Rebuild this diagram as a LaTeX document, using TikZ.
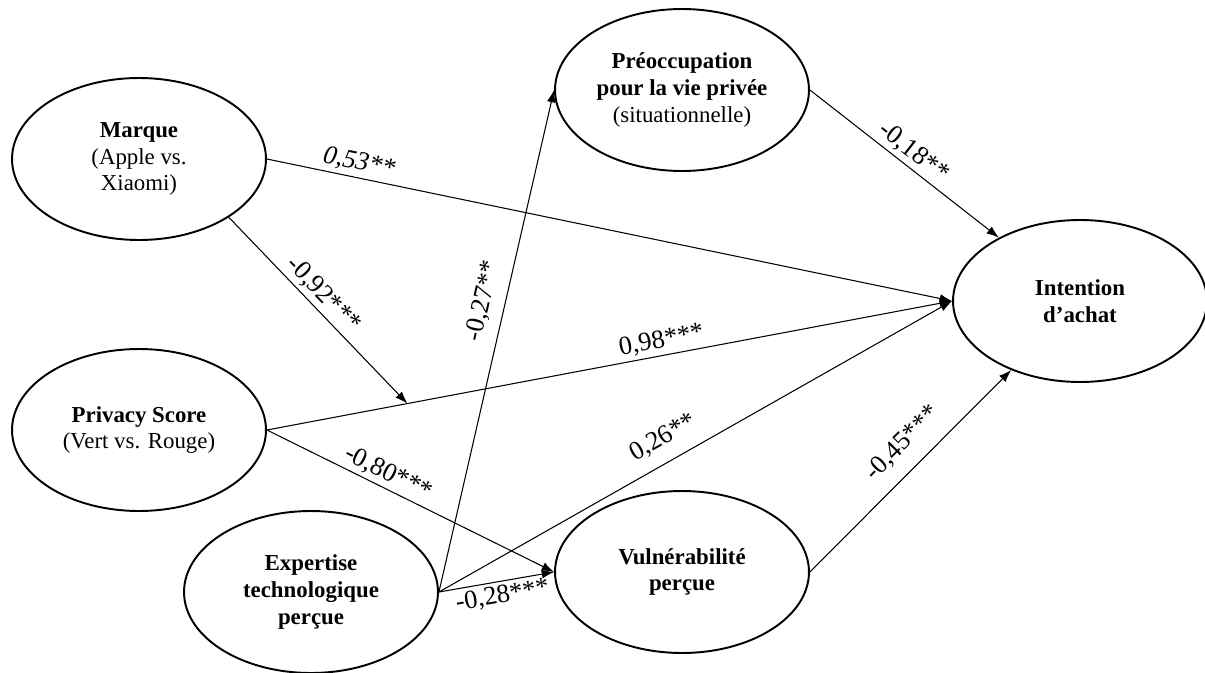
\documentclass[tikz,border=0pt]{standalone}
\usepackage{fontspec}
\setmainfont{Liberation Serif}
\usetikzlibrary{arrows.meta,shapes}
\tikzstyle{latent}=[ellipse, draw, line width=1.1pt, inner sep=0pt,
 minimum width=5.08cm, minimum height=3.24cm, align=center,
 font=\fontsize{13}{15.3}\selectfont]
\tikzstyle{coef}=[sloped, inner sep=2pt, font=\fontsize{15}{17}\selectfont]
\tikzstyle{link}=[->, line width=0.6pt]

\begin{document}
\begin{tikzpicture}[x=0.02cm, y=-0.02cm, >={Latex[length=7pt,width=5pt]}]
	\useasboundingbox (0,0) rectangle (1205,673);

	    % Variables
		\node[latent] (marque) at (139,159) {\textbf{Marque}\\(Apple vs.\\Xiaomi)};
		\node[latent] (privacy) at (139,430) {\textbf{Privacy Score}\\(Vert vs. Rouge)};
		\node[latent] (expertise) at (311,592) {\textbf{Expertise}\\\textbf{technologique}\\\textbf{perçue}};
		\node[latent] (preoc) at (682,90) {\textbf{Préoccupation}\\\textbf{pour la vie privée}\\(situationnelle)};
		\node[latent] (vuln) at (682,572) {\textbf{Vulnérabilité}\\\textbf{perçue}};
		\node[latent] (intention) at (1080,301) {\textbf{Intention}\\\textbf{d’achat}};

		% Effets directs
		\draw[link] (marque.east) -- node[coef, above, pos=0.13] {\textit{0,53**}} (intention.west);
		\draw[link] (privacy.east) -- node[coef, above, pos=0.58] {0,98***} (intention.west);
		\draw[link] (privacy.east) -- node[coef, above, pos=0.4] {-0,80***} (vuln.west);
		\draw[link] (expertise.east) -- node[coef, above=5pt, pos=0.46] {0,26**} (intention.west);
		\draw[link] (expertise.east) -- node[coef, above=4pt, pos=0.57] {-0,27**} (preoc.west);
		\draw[link] (expertise.east) -- node[coef, below, pos=0.53] {-0,28***} (vuln.west);
		\draw[link] (preoc.east) -- node[coef, above, pos=0.5] {-0,18**} (intention);
		\draw[link] (vuln.east) -- node[coef, above=6pt, pos=0.55] {-0,45***} (intention);

		% Moderation
		\path (privacy.east) -- (intention.west) coordinate[pos=0.205] (mod);
		\draw[link] (marque.-33) -- node[coef, above, pos=0.47] {-0,92***} (mod);
\end{tikzpicture}
\end{document}
